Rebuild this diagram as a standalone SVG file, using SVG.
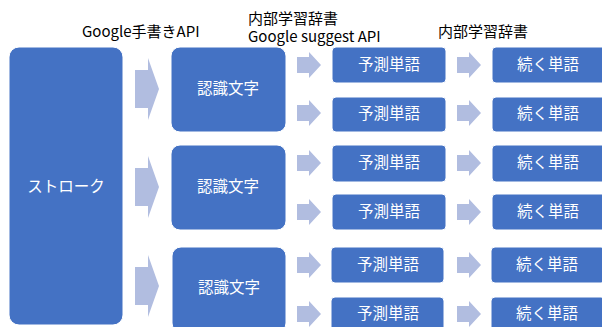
<svg xmlns="http://www.w3.org/2000/svg" width="602" height="327" viewBox="0 0 602 327">
<style>
.box{fill:#4472C4;stroke:#FFFFFF;stroke-width:1}
.arr{fill:#B1BDE0}
.bt{fill:#FFFFFF;font-family:"Noto Sans CJK JP",sans-serif;font-size:15.5px;text-anchor:middle;dominant-baseline:central}
.lb{fill:#000000;font-family:"Noto Sans CJK JP",sans-serif;font-size:15px}
</style>
<rect width="602" height="327" fill="#FFFFFF"/>
<g id="labels">
<text class="lb" x="82" y="37">Google手書きAPI</text>
<text class="lb" x="248" y="24">内部学習辞書</text>
<text class="lb" x="248" y="42">Google suggest API</text>
<text class="lb" x="438" y="37">内部学習辞書</text>
</g>
<g id="connectors">
<polygon class="arr" points="135,70 148,70 148,58 159,89 148,120 148,108 135,108"/>
<polygon class="arr" points="135,168 148,168 148,156 159,187 148,218 148,206 135,206"/>
<polygon class="arr" points="135,267 148,267 148,255 159,286 148,317 148,305 135,305"/>
<g id="mid-arrows">
<polygon class="arr" points="297,57 309,57 309,52 321,65 309,78 309,73 297,73"/>
<polygon class="arr" points="297,105 309,105 309,100 321,113 309,126 309,121 297,121"/>
<polygon class="arr" points="297,155 309,155 309,150 321,163 309,176 309,171 297,171"/>
<polygon class="arr" points="297,204 309,204 309,199 321,212 309,225 309,220 297,220"/>
<polygon class="arr" points="297,257 309,257 309,252 321,265 309,278 309,273 297,273"/>
<polygon class="arr" points="297,306 309,306 309,301 321,314 309,327 309,322 297,322"/>
</g>
<g id="right-arrows">
<polygon class="arr" points="457,57 469,57 469,52 481,65 469,78 469,73 457,73"/>
<polygon class="arr" points="457,105 469,105 469,100 481,113 469,126 469,121 457,121"/>
<polygon class="arr" points="457,155 469,155 469,150 481,163 469,176 469,171 457,171"/>
<polygon class="arr" points="457,204 469,204 469,199 481,212 469,225 469,220 457,220"/>
<polygon class="arr" points="457,257 469,257 469,252 481,265 469,278 469,273 457,273"/>
<polygon class="arr" points="457,306 469,306 469,301 481,314 469,327 469,322 457,322"/>
</g>
</g>
<g id="stroke">
<rect class="box" x="9" y="47" width="114" height="278" rx="10"/>
<text class="bt" x="66" y="185">ストローク</text>
</g>
<g id="char1">
<rect class="box" x="171" y="47" width="115" height="85" rx="9"/>
<text class="bt" x="228" y="87">認識文字</text>
</g>
<g id="char2">
<rect class="box" x="171" y="145" width="115" height="85" rx="9"/>
<text class="bt" x="228" y="185">認識文字</text>
</g>
<g id="char3">
<rect class="box" x="172" y="247" width="114" height="85" rx="9"/>
<text class="bt" x="229" y="286">認識文字</text>
</g>
<g id="pred1"><rect class="box" x="332" y="47" width="114" height="36" rx="4"/><text class="bt" x="389" y="63">予測単語</text></g>
<g id="pred2"><rect class="box" x="332" y="97" width="114" height="35" rx="4"/><text class="bt" x="389" y="112">予測単語</text></g>
<g id="pred3"><rect class="box" x="332" y="145" width="114" height="37" rx="4"/><text class="bt" x="389" y="161">予測単語</text></g>
<g id="pred4"><rect class="box" x="332" y="194" width="114" height="36" rx="4"/><text class="bt" x="389" y="210">予測単語</text></g>
<g id="pred5"><rect class="box" x="331" y="247" width="113" height="36" rx="4"/><text class="bt" x="388" y="263">予測単語</text></g>
<g id="pred6"><rect class="box" x="331" y="297" width="113" height="36" rx="4"/><text class="bt" x="388" y="312">予測単語</text></g>
<g id="next1"><rect class="box" x="492" y="47" width="114" height="36" rx="4"/><text class="bt" x="548" y="63">続く単語</text></g>
<g id="next2"><rect class="box" x="492" y="97" width="114" height="35" rx="4"/><text class="bt" x="548" y="112">続く単語</text></g>
<g id="next3"><rect class="box" x="492" y="145" width="114" height="37" rx="4"/><text class="bt" x="548" y="161">続く単語</text></g>
<g id="next4"><rect class="box" x="492" y="194" width="114" height="36" rx="4"/><text class="bt" x="548" y="210">続く単語</text></g>
<g id="next5"><rect class="box" x="491" y="247" width="114" height="36" rx="4"/><text class="bt" x="547" y="263">続く単語</text></g>
<g id="next6"><rect class="box" x="491" y="297" width="114" height="36" rx="4"/><text class="bt" x="547" y="312">続く単語</text></g>
</svg>
